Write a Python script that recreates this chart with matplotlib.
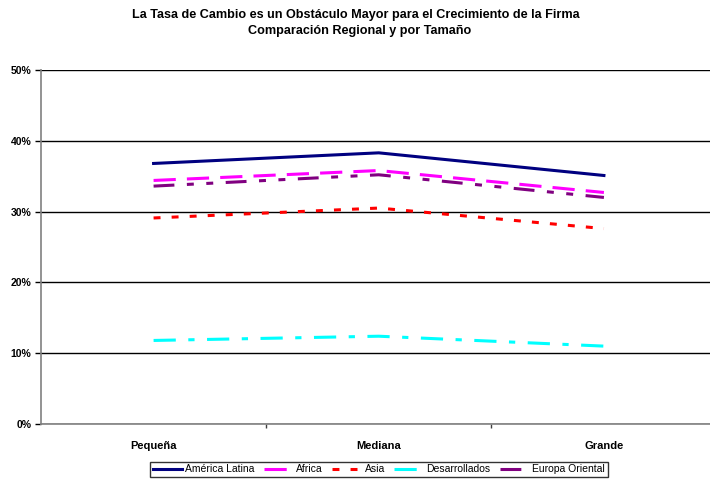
import matplotlib
matplotlib.use("Agg")
import matplotlib.pyplot as plt
from matplotlib.ticker import FixedLocator, PercentFormatter

plt.rcParams['font.family'] = ['Liberation Sans', 'DejaVu Sans']
plt.rcParams['lines.scale_dashes'] = False

# firm size categories
sizes = ["Pequeña", "Mediana", "Grande"]

# share of firms reporting the exchange rate as a major obstacle (%)
america_latina = [36.8, 38.3, 35.1]
africa = [34.4, 35.8, 32.7]
asia = [29.1, 30.5, 27.6]
desarrollados = [11.8, 12.4, 11.0]
europa_oriental = [33.6, 35.2, 32.0]

series = [
    ("América Latina", america_latina, "#000080", (None, None)),
    ("Africa", africa, "#FF00FF", (0, (16, 8))),
    ("Asia", asia, "#FF0000", (0, (5, 8))),
    ("Desarrollados", desarrollados, "#00FFFF", (0, (16, 9, 4.5, 9))),
    ("Europa Oriental", europa_oriental, "#800080", (0, (15, 9, 5, 9, 5, 9))),
]

fig = plt.figure(figsize=(7.10, 4.83), dpi=100)
ax = fig.add_axes([41 / 710, 1 - 424 / 483, 675.5 / 710, 354 / 483])

x = list(range(len(sizes)))
handles = []
for name, vals, color, dash in series:
    if dash[0] is None:
        ln, = ax.plot(x, vals, color=color, lw=2.2, solid_joinstyle='miter')
    else:
        ln, = ax.plot(x, vals, color=color, lw=2.2, linestyle=dash,
                      dash_capstyle='butt')
    handles.append(ln)

ax.set_xlim(-0.5, 2.5)
ax.set_ylim(0, 50)
ax.yaxis.set_major_locator(FixedLocator([0, 10, 20, 30, 40, 50]))
ax.yaxis.set_major_formatter(PercentFormatter(decimals=0))
ax.yaxis.grid(True, color='black', lw=1)
ax.set_axisbelow(True)

ax.set_xticks(x)
ax.set_xticklabels(sizes, fontweight='bold', fontsize=8)
ax.tick_params(axis='x', which='major', length=0, pad=12)
ax.xaxis.set_minor_locator(FixedLocator([0.5, 1.5]))
ax.tick_params(axis='x', which='minor', length=3, width=1, direction='out',
               bottom=True, color='#404040')
for lab in ax.get_yticklabels():
    lab.set_fontweight('bold')
    lab.set_fontsize(7.5)
ax.tick_params(axis='y', length=4, width=1, pad=3)

for side in ['top', 'right']:
    ax.spines[side].set_visible(False)
ax.spines['left'].set_color('#808080')
ax.spines['left'].set_linewidth(1.2)
ax.spines['bottom'].set_color('#808080')
ax.spines['bottom'].set_linewidth(1.2)

fig.text(356 / 710, 1 - 15 / 483,
         "La Tasa de Cambio es un Obstáculo Mayor para el Crecimiento de la Firma",
         ha='center', va='center', fontweight='bold', fontsize=9.1)
fig.text(360 / 710, 1 - 31 / 483, "Comparación Regional y por Tamaño",
         ha='center', va='center', fontweight='bold', fontsize=9.1)

leg = fig.legend(handles, [s[0] for s in series], loc='center',
                 bbox_to_anchor=(379 / 710, 1 - 469.5 / 483), ncol=5,
                 fontsize=7.5, frameon=True, fancybox=False, shadow=False,
                 handlelength=2.8, handletextpad=0.3, columnspacing=0.9,
                 borderpad=0.25)
leg.get_frame().set_edgecolor('black')
leg.get_frame().set_linewidth(1)

fig.savefig("out.png", dpi=100)
